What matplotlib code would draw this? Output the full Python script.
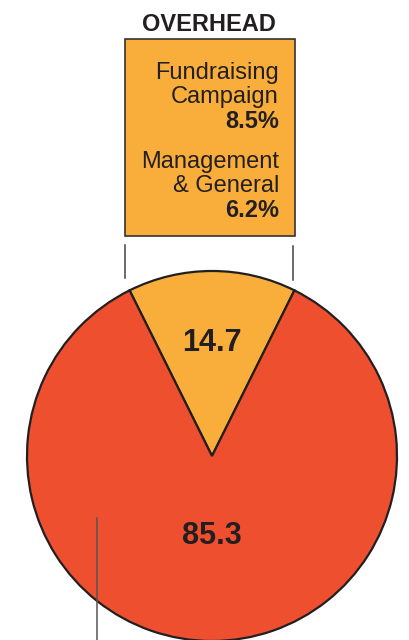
import numpy as np
import matplotlib.pyplot as plt
from matplotlib.patches import Rectangle

plt.rcParams['font.family'] = ['Liberation Sans', 'DejaVu Sans']

# data
shares = [14.7, 85.3]
share_labels = ['14.7', '85.3']
colors = ['#F9AE3C', '#EE4F2F']
overhead_items = [['Fundraising', 'Campaign'], ['Management', '& General']]
overhead_values = ['8.5%', '6.2%']

ink = '#231F20'

fig = plt.figure(figsize=(4.1, 6.4), dpi=100)
ax = fig.add_axes([0, 0, 1, 1])

# pie, orange wedge centred at the top (y axis is inverted)
cx, cy, r = 212, 456, 185
start = 270 - shares[0] / sum(shares) * 360 / 2
wedges, _ = ax.pie(shares, colors=colors, startangle=start, center=(cx, cy),
                   radius=r, frame=True,
                   wedgeprops=dict(edgecolor=ink, linewidth=1.6))
ax.set_xlim(0, 410)
ax.set_ylim(640, 0)
ax.set_aspect('equal')
ax.axis('off')

dists = [0.61, 0.43]
for w, lab, d in zip(wedges, share_labels, dists):
    mid = np.deg2rad((w.theta1 + w.theta2) / 2)
    ax.text(cx + d * r * np.cos(mid), cy + d * r * np.sin(mid), lab,
            ha='center', va='center', fontsize=22, fontweight='bold', color=ink)

# overhead box
ax.add_patch(Rectangle((125, 39), 170, 197, facecolor=colors[0],
                       edgecolor='#333333', linewidth=1.2, zorder=3))
ax.text(209, 31, 'OVERHEAD', ha='center', va='baseline', fontsize=17,
        fontweight='bold', color=ink)

base = 79
for item, val in zip(overhead_items, overhead_values):
    for line in item:
        ax.text(279, base, line, ha='right', va='baseline', fontsize=17,
                color=ink, zorder=4)
        base += 24.5
    ax.text(279, base, val, ha='right', va='baseline', fontsize=17,
            fontweight='bold', color=ink, zorder=4)
    base += 40

# leader lines
ax.plot([125, 125], [245, 278], color='#444444', lw=1.1)
ax.plot([293, 293], [246, 280], color='#444444', lw=1.1)
ax.plot([97, 97], [518, 640], color='#555555', lw=1.1)

fig.savefig('out.png', dpi=100)
